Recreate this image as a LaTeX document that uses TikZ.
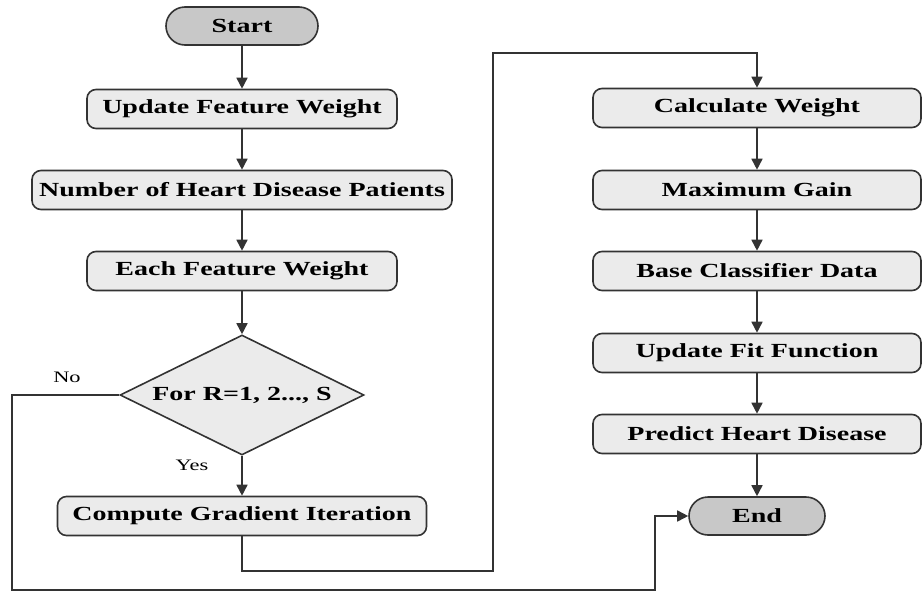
\documentclass[tikz,border=0pt]{standalone}
\usepackage{fontspec}
\setmainfont[FakeStretch=1.4]{Liberation Serif}
\usepackage{tikz}
\usetikzlibrary{arrows.meta,shapes.geometric}
\definecolor{linec}{HTML}{333333}
\definecolor{boxfill}{HTML}{EBEBEB}
\definecolor{termfill}{HTML}{C8C8C8}

\begin{document}
\begin{tikzpicture}[x=1pt,y=-1pt,
  every node/.style={font=\fontsize{20}{22}\selectfont\bfseries, text=black},
  proc/.style={draw=linec, line width=1.6pt, fill=boxfill, rounded corners=9pt, minimum height=39pt, inner sep=0pt},
  term/.style={draw=linec, line width=1.6pt, fill=termfill, rounded corners=19pt, minimum height=38pt, inner sep=0pt},
  decide/.style={draw=linec, line width=1.6pt, fill=boxfill, diamond, aspect=2, minimum width=244pt, minimum height=120pt, inner sep=0pt},
  lbl/.style={font=\fontsize{16}{18}\selectfont},
  arr/.style={draw=linec, line width=1.6pt, -{Triangle[length=11pt,width=11pt]}},
  ln/.style={draw=linec, line width=1.6pt}]
  \useasboundingbox (0,0) rectangle (922,592);
  % left column
  \node[term, minimum width=152pt] (start) at (242,26) {Start};
  \node[proc, minimum width=310pt] (upd) at (242,109) {Update Feature Weight};
  \node[proc, minimum width=420pt] (num) at (242,190) {Number of Heart Disease Patients};
  \node[proc, minimum width=310pt] (each) at (242,271) {Each Feature Weight};
  \node[decide] (dec) at (242,395) {For R=1, 2..., S};
  \node[proc, minimum width=369pt] (comp) at (242,516) {Compute Gradient Iteration};
  % right column
  \node[proc, minimum width=328pt] (calc) at (757,108) {Calculate Weight};
  \node[proc, minimum width=328pt] (gain) at (757,190) {Maximum Gain};
  \node[proc, minimum width=328pt] (base) at (757,271) {Base Classifier Data};
  \node[proc, minimum width=328pt] (fit) at (757,353) {Update Fit Function};
  \node[proc, minimum width=328pt] (pred) at (757,434) {Predict Heart Disease};
  \node[term, minimum width=136pt] (fin) at (757,516) {End};
  % labels
  \node[lbl] (no) at (67,377) {No};
  \node[lbl] (yes) at (192,465) {Yes};
  % turning points
  \coordinate (turnA) at (493,571);
  \coordinate (turnB) at (493,53);
  \coordinate (noA) at (12,395);
  \coordinate (noB) at (655,590);
  % flow
  \path[arr] (start) -- (upd);
  \path[arr] (upd) -- (num);
  \path[arr] (num) -- (each);
  \path[arr] (each) -- (dec);
  \path[arr] (dec) -- (comp);
  \path[arr] (comp.south) |- (turnA) -- (turnB) -| (calc.north);
  \path[arr] (calc) -- (gain);
  \path[arr] (gain) -- (base);
  \path[arr] (base) -- (fit);
  \path[arr] (fit) -- (pred);
  \path[arr] (pred) -- (fin);
  \path[arr] (dec.west) -- (noA) |- (noB) |- (fin.west);
\end{tikzpicture}
\end{document}
